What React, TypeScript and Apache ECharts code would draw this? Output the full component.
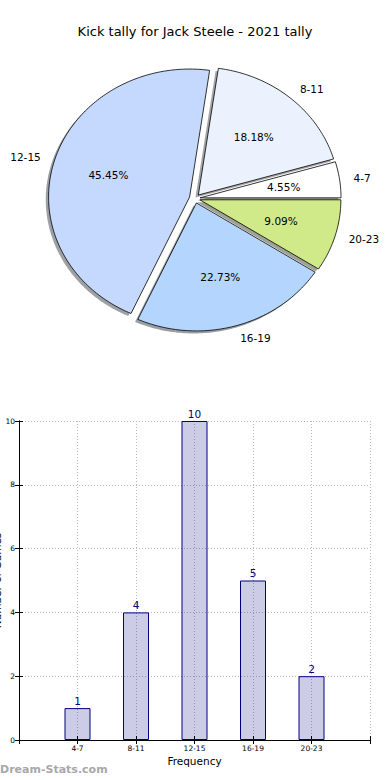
import React, { useEffect, useRef } from "react";
import * as echarts from "echarts";

const categories = ["4-7", "8-11", "12-15", "16-19", "20-23"];
const counts = [1, 4, 10, 5, 2];
const pieColors = ["#ffffff", "#ebf2fe", "#c5d9fe", "#b4d5fe", "#d0ea8a"];
const explode = [0.036, 0.036, 0.04, 0.036, 0.036];
const titleText = "Kick tally for Jack Steele - 2021 tally";
const xTitle = "Frequency";
const yTitle = "Number of Games";

const FONT = "DejaVu Sans";
const CX = 195;
const CY = 198.5;
const RX = 141;
const RY = 128;

function sliceGeom(i: number, v: number) {
  const total = counts.reduce((a, b) => a + b, 0);
  let before = 0;
  for (let k = 0; k < i; k++) before += counts[k];
  const a0 = (before / total) * 2 * Math.PI;
  const a1 = ((before + v) / total) * 2 * Math.PI;
  const mid = (a0 + a1) / 2;
  const e = explode[i];
  const ox = CX + e * RX * Math.cos(mid);
  const oy = CY - e * RY * Math.sin(mid);
  const pts: number[][] = [[ox, oy]];
  const steps = Math.max(4, Math.ceil(((a1 - a0) * 180) / Math.PI));
  for (let s = 0; s <= steps; s++) {
    const a = a0 + ((a1 - a0) * s) / steps;
    pts.push([ox + RX * Math.cos(a), oy - RY * Math.sin(a)]);
  }
  return { pts, mid, ox, oy, pct: (v / total) * 100 };
}

export default function App() {
  const ref = useRef<HTMLDivElement>(null);
  useEffect(() => {
    if (!ref.current) return;
    const chart = echarts.init(ref.current, null, { renderer: "svg" });
    const pieData = counts.map((v) => [v]);
    const option: any = {
      animation: false,
      backgroundColor: "#ffffff",
      textStyle: { fontFamily: FONT },
      title: {
        text: titleText,
        left: "center",
        top: 20,
        textStyle: { fontFamily: FONT, fontSize: 13, fontWeight: "normal", color: "#000" },
      },
      graphic: [
        {
          type: "text",
          left: 0,
          top: 764,
          style: {
            text: "Dream-Stats.com",
            fill: "#a8a8a8",
            font: "bold 11px " + FONT,
          },
        },
      ],
      grid: { left: 19, right: 20, top: 421, bottom: 40, outerBoundsMode: "none", containLabel: false },
      xAxis: [
        {
          type: "value",
          min: 0,
          max: 6,
          interval: 1,
          name: xTitle,
          nameLocation: "middle",
          nameGap: 15,
          nameMoveOverlap: false,
          nameTextStyle: { fontFamily: FONT, fontSize: 10.5, color: "#000" },
          axisLine: { show: true, lineStyle: { color: "#000", width: 1 } },
          axisTick: { show: true, inside: true, length: 4, lineStyle: { color: "#000" } },
          axisLabel: {
            fontFamily: FONT,
            fontSize: 7.5,
            color: "#000",
            margin: 4,
            formatter: (v: number) => categories[v - 1] ?? "",
          },
          splitLine: { show: true, lineStyle: { color: "#b8b8b8", type: [1, 2], width: 1 } },
        },
        {
          type: "value",
          position: "top",
          min: 0,
          max: 6,
          interval: 1,
          axisLine: { show: true, lineStyle: { color: "#000", width: 1 } },
          axisTick: { show: true, inside: true, length: 4, lineStyle: { color: "#000" } },
          axisLabel: { show: false },
          splitLine: { show: false },
        },
      ],
      yAxis: [
        {
          type: "value",
          min: 0,
          max: 10,
          interval: 2,
          name: yTitle,
          nameLocation: "middle",
          nameGap: 17,
          nameMoveOverlap: false,
          nameTextStyle: { fontFamily: FONT, fontSize: 10.5, color: "#000" },
          axisLine: { show: true, lineStyle: { color: "#000", width: 1 } },
          axisTick: { show: true, inside: true, length: 4, lineStyle: { color: "#000" } },
          axisLabel: { fontFamily: FONT, fontSize: 7.5, color: "#000", margin: 4 },
          splitLine: { show: true, lineStyle: { color: "#b8b8b8", type: [1, 2], width: 1 } },
        },
        {
          type: "value",
          position: "right",
          min: 0,
          max: 10,
          interval: 2,
          axisLine: { show: true, lineStyle: { color: "#000", width: 1 } },
          axisTick: { show: true, inside: true, length: 4, lineStyle: { color: "#000" } },
          axisLabel: { show: false },
          splitLine: { show: false },
        },
      ],
      series: [
        {
          type: "custom",
          coordinateSystem: "none",
          data: pieData,
          silent: true,
          renderItem: (params: any, api: any) => {
            const i = params.dataIndex;
            const g = sliceGeom(i, api.value(0));
            const c = echarts.color.parse(pieColors[i]) as number[];
            const sh = `rgba(${Math.round(c[0] * 0.3)},${Math.round(c[1] * 0.3)},${Math.round(c[2] * 0.3)},0.5)`;
            return {
              type: "polygon",
              x: -0.02 * RX,
              y: 0.02 * RY,
              shape: { points: g.pts },
              style: { fill: sh, stroke: "none" },
            };
          },
        },
        {
          type: "custom",
          coordinateSystem: "none",
          data: pieData,
          silent: true,
          renderItem: (params: any, api: any) => {
            const i = params.dataIndex;
            const g = sliceGeom(i, api.value(0));
            const px = g.ox + 0.6 * RX * Math.cos(g.mid);
            const py = g.oy - 0.6 * RY * Math.sin(g.mid);
            const lx = g.ox + 1.1 * RX * Math.cos(g.mid);
            const ly = g.oy - 1.1 * RY * Math.sin(g.mid);
            return {
              type: "group",
              children: [
                {
                  type: "polygon",
                  shape: { points: g.pts },
                  style: { fill: pieColors[i], stroke: "#000", lineWidth: 0.8 },
                },
                {
                  type: "text",
                  x: px,
                  y: py,
                  style: {
                    text: g.pct.toFixed(2) + "%",
                    fill: "#000",
                    font: "10.5px " + FONT,
                    align: "center",
                    verticalAlign: "middle",
                  },
                },
                {
                  type: "text",
                  x: lx,
                  y: ly,
                  style: {
                    text: categories[i],
                    fill: "#000",
                    font: "10.5px " + FONT,
                    align: Math.cos(g.mid) >= 0 ? "left" : "right",
                    verticalAlign: "middle",
                  },
                },
              ],
            };
          },
        },
        {
          type: "bar",
          xAxisIndex: 0,
          yAxisIndex: 0,
          barWidth: 26,
          data: counts.map((v, i) => [i + 1, v]),
          itemStyle: { color: "rgba(0,0,128,0.2)", borderColor: "#000080", borderWidth: 1 },
          label: {
            show: true,
            position: "top",
            distance: 2,
            color: "#000080",
            fontFamily: FONT,
            fontSize: 10.5,
          },
        },
      ],
    };
    chart.setOption(option);
    return () => chart.dispose();
  }, []);
  return (
    <div
      ref={ref}
      style={{ position: "absolute", left: 0, top: 0, width: 390, height: 780 }}
    />
  );
}
